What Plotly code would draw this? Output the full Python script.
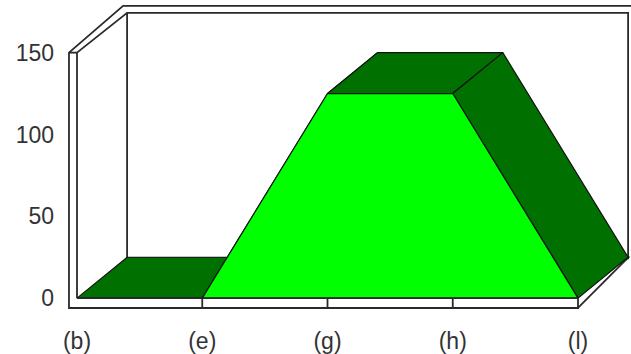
import plotly.graph_objects as go

# ================= DATA =================
CATEGORIES = ["(b)", "(e)", "(g)", "(h)", "(l)"]
VALUES = [0, 0, 125, 125, 0]
Y_TICKS = [0, 50, 100, 150]
# ================= STYLE =================
LIGHT_GREEN = "#00FF00"
DARK_GREEN = "#007000"
EDGE = "#111111"
FRAME = "#2a2a2a"
FONT = "Liberation Sans"
WIDTH = 631
HEIGHT = 354

# axis scale: pixels per category step / per value unit
PX_X = 125.25
PX_Y = 1.647
ORIGIN_X = 77
ORIGIN_Y = 300
LEFT = 60
BOTTOM = 326

# chart depth, in axis units
DEPTH_X = 0.4
DEPTH_Y = 25
WALL_Y = 24.3
# the thin plinth round the front of the box
LIP_X = -0.064
LIP_Y = -6
TOP_LIP = 4.25

Y_MAX = Y_TICKS[-1]
X_LAST = len(CATEGORIES) - 1
x_idx = list(range(len(CATEGORIES)))

fig = go.Figure()


def add_poly(xs, ys, fill, line_width=1.2):
    fig.add_trace(go.Scatter(
        x=xs, y=ys, mode="lines", fill="toself", fillcolor=fill,
        line=dict(color=EDGE, width=line_width),
        hoverinfo="skip", showlegend=False,
    ))


def add_line(xs, ys, width=1.8):
    fig.add_trace(go.Scatter(
        x=xs, y=ys, mode="lines",
        line=dict(color=FRAME, width=width),
        hoverinfo="skip", showlegend=False,
    ))


# back walls and floor
add_line([0, 0, DEPTH_X, X_LAST + DEPTH_X, X_LAST + DEPTH_X, DEPTH_X, DEPTH_X],
         [0, Y_MAX, Y_MAX + WALL_Y, Y_MAX + WALL_Y, WALL_Y, WALL_Y, Y_MAX + WALL_Y])
# outer lip
add_line([X_LAST, X_LAST, LIP_X, LIP_X, DEPTH_X + LIP_X / 2, X_LAST + DEPTH_X + 0.1],
         [0, LIP_Y, LIP_Y, Y_MAX, Y_MAX + WALL_Y + TOP_LIP, Y_MAX + WALL_Y + TOP_LIP])
add_line([LIP_X, 0], [Y_MAX, Y_MAX])
add_line([X_LAST, X_LAST + DEPTH_X + 0.01], [LIP_Y, WALL_Y + 1.2])
for i in x_idx[1:-1]:
    add_line([i, i], [0, LIP_Y])

# top and side faces of the area, one per segment
for i in range(len(VALUES) - 1):
    add_poly(
        [i, i + 1, i + 1 + DEPTH_X, i + DEPTH_X, i],
        [VALUES[i], VALUES[i + 1], VALUES[i + 1] + DEPTH_Y, VALUES[i] + DEPTH_Y, VALUES[i]],
        DARK_GREEN,
    )

# front face
add_poly(x_idx + [x_idx[0]], VALUES + [VALUES[0]], LIGHT_GREEN)
add_line([0, X_LAST], [0, 0])

fig.update_layout(
    width=WIDTH,
    height=HEIGHT,
    margin=dict(l=LEFT, r=0, t=0, b=HEIGHT - BOTTOM),
    paper_bgcolor="white",
    plot_bgcolor="white",
    showlegend=False,
    font=dict(family=FONT, size=23, color="#333333"),
    xaxis=dict(
        range=[(LEFT - ORIGIN_X) / PX_X, (WIDTH - ORIGIN_X) / PX_X],
        tickmode="array", tickvals=x_idx, ticktext=CATEGORIES,
        showgrid=False, zeroline=False, showline=False, ticks="",
        ticklabelstandoff=1,
    ),
    yaxis=dict(
        range=[(ORIGIN_Y - BOTTOM) / PX_Y, ORIGIN_Y / PX_Y],
        tickmode="array", tickvals=Y_TICKS,
        showgrid=False, zeroline=False, showline=False, ticks="",
        ticklabelstandoff=5,
    ),
)

fig.write_html("out.html", config=dict(displayModeBar=False),
               post_script="document.body.style.margin='0';")
